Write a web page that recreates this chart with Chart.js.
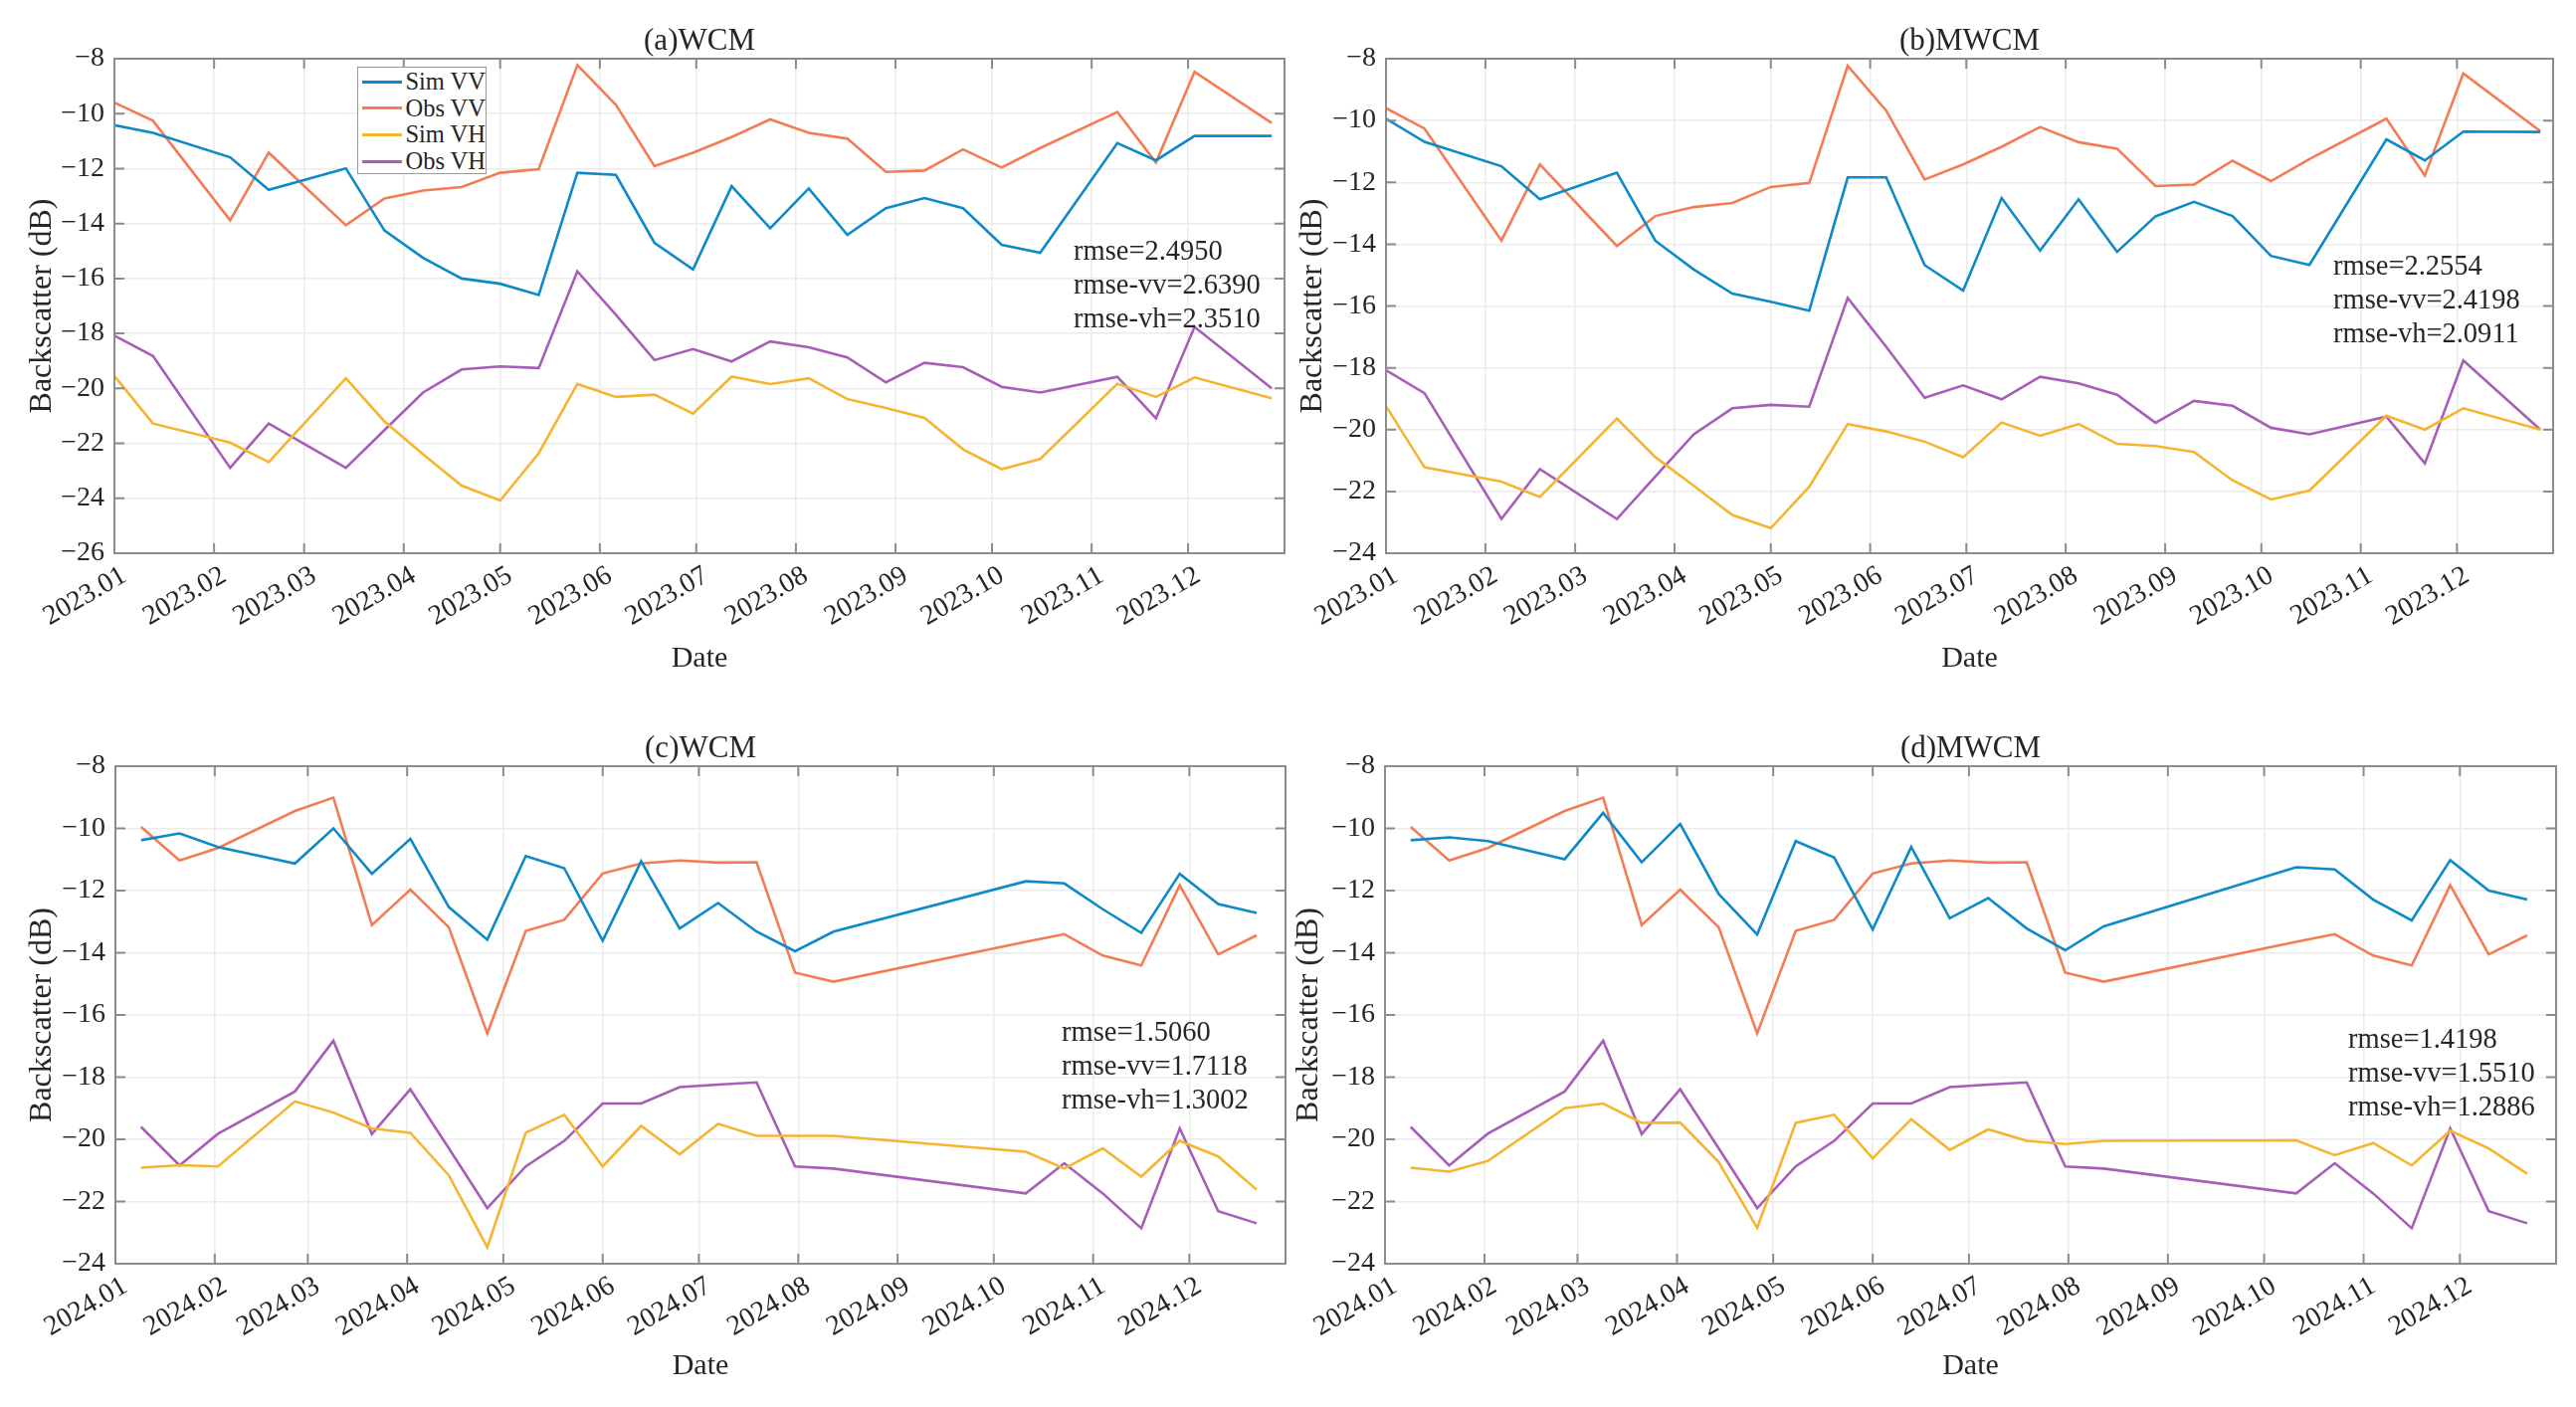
<!DOCTYPE html>
<html><head><meta charset="utf-8">
<script src="https://cdn.jsdelivr.net/npm/chart.js@4.4.1/dist/chart.umd.min.js"></script>
<style>
html,body{margin:0;padding:0;background:#fff;width:2589px;height:1414px;overflow:hidden}
.panel{position:absolute}
.note{position:absolute;font-family:"Liberation Serif",serif;font-size:28.5px;line-height:34px;color:#262626;white-space:nowrap}
.legend{position:absolute;left:359px;top:67px;width:130px;height:108px;border:1.5px solid #9a9a9a;background:#fff;font-family:"Liberation Serif",serif;font-size:24.5px;color:#262626;box-sizing:border-box;padding-top:1px}
.legend div{height:26.6px;line-height:26.6px;display:flex;align-items:center;white-space:nowrap}
.legend span.l{display:inline-block;width:42px;height:3px;margin:0 3px 0 4px}
</style></head>
<body>
<script>
// ---- data ----
const days2023 = [0,12,36,48,72,84,96,108,120,132,144,156,168,180,192,204,216,228,240,252,264,276,288,312,324,336,360];
const days2024 = [8,20,32,56,68,80,92,104,116,128,140,152,164,176,188,200,212,224,284,296,308,320,332,344,356];
const monthStarts2023 = [0,31,59,90,120,151,181,212,243,273,304,334];
const monthStarts2024 = [0,31,60,91,121,152,182,213,244,274,305,335];
const monthLabels2023 = ['2023.01','2023.02','2023.03','2023.04','2023.05','2023.06','2023.07','2023.08','2023.09','2023.10','2023.11','2023.12'];
const monthLabels2024 = ['2024.01','2024.02','2024.03','2024.04','2024.05','2024.06','2024.07','2024.08','2024.09','2024.10','2024.11','2024.12'];
const seriesNames = ['Sim VV','Obs VV','Sim VH','Obs VH'];

const obsVV2023 = [-9.6,-10.26,-13.88,-11.42,-14.06,-13.09,-12.8,-12.67,-12.15,-12.02,-8.23,-9.68,-11.91,-11.42,-10.85,-10.21,-10.7,-10.91,-12.12,-12.07,-11.3,-11.96,-11.25,-9.94,-11.78,-8.48,-10.34];
const obsVH2023 = [-18.08,-18.82,-22.89,-21.28,-22.89,-21.52,-20.15,-19.31,-19.2,-19.26,-15.74,-17.32,-18.97,-18.57,-19.02,-18.29,-18.5,-18.87,-19.78,-19.07,-19.23,-19.94,-20.15,-19.58,-21.09,-17.76,-20.0];
const simVV_WCM2023 = [-10.42,-10.7,-11.59,-12.77,-11.99,-14.25,-15.25,-16.0,-16.19,-16.6,-12.15,-12.23,-14.7,-15.67,-12.64,-14.17,-12.72,-14.41,-13.44,-13.07,-13.44,-14.77,-15.06,-11.07,-11.7,-10.81,-10.81];
const simVH_WCM2023 = [-19.55,-21.28,-21.97,-22.68,-19.63,-21.2,-22.4,-23.54,-24.08,-22.36,-19.84,-20.31,-20.23,-20.92,-19.57,-19.84,-19.63,-20.39,-20.71,-21.07,-22.22,-22.94,-22.57,-19.83,-20.31,-19.6,-20.36];
const simVV_MWCM2023 = [-9.94,-10.69,-11.48,-12.55,-11.69,-13.89,-14.82,-15.6,-15.86,-16.15,-11.84,-11.84,-14.68,-15.5,-12.51,-14.21,-12.55,-14.25,-13.1,-12.63,-13.09,-14.38,-14.67,-10.61,-11.29,-10.36,-10.37];
const simVH_MWCM2023 = [-19.24,-21.22,-21.68,-22.18,-19.64,-20.89,-21.82,-22.76,-23.19,-21.85,-19.82,-20.06,-20.39,-20.89,-19.77,-20.2,-19.82,-20.46,-20.53,-20.72,-21.64,-22.26,-21.97,-19.55,-20.0,-19.31,-20.0];

const obsVV2024 = [-9.95,-11.03,-10.63,-9.44,-9.01,-13.11,-11.97,-13.18,-16.59,-13.3,-12.94,-11.45,-11.13,-11.03,-11.1,-11.09,-14.64,-14.93,-13.65,-13.4,-14.09,-14.41,-11.83,-14.05,-13.44];
const obsVH2024 = [-19.6,-20.84,-19.82,-18.46,-16.83,-19.83,-18.39,-20.29,-22.21,-20.87,-20.05,-18.85,-18.85,-18.32,-18.24,-18.17,-20.87,-20.94,-21.74,-20.77,-21.74,-22.86,-19.65,-22.31,-22.7];
const simVV_WCM2024 = [-10.38,-10.16,-10.6,-11.13,-10.0,-11.46,-10.34,-12.53,-13.58,-10.89,-11.28,-13.61,-11.06,-13.22,-12.4,-13.32,-13.95,-13.32,-11.7,-11.77,-12.6,-13.36,-11.46,-12.43,-12.72];
const simVH_WCM2024 = [-20.91,-20.83,-20.87,-18.78,-19.14,-19.65,-19.79,-21.16,-23.47,-19.79,-19.21,-20.87,-19.57,-20.48,-19.5,-19.89,-19.89,-19.89,-20.4,-20.94,-20.29,-21.2,-20.05,-20.55,-21.62];
const simVV_MWCM2024 = [-10.38,-10.29,-10.41,-10.99,-9.5,-11.09,-9.86,-12.11,-13.41,-10.41,-10.94,-13.25,-10.6,-12.89,-12.24,-13.22,-13.92,-13.15,-11.25,-11.32,-12.29,-12.96,-11.02,-12.0,-12.29];
const simVH_MWCM2024 = [-20.91,-21.04,-20.7,-19.0,-18.85,-19.47,-19.46,-20.73,-22.85,-19.47,-19.21,-20.61,-19.35,-20.34,-19.68,-20.05,-20.15,-20.05,-20.03,-20.51,-20.12,-20.84,-19.72,-20.29,-21.11];

const rmseA = ['rmse=2.4950','rmse-vv=2.6390','rmse-vh=2.3510'];
const rmseB = ['rmse=2.2554','rmse-vv=2.4198','rmse-vh=2.0911'];
const rmseC = ['rmse=1.5060','rmse-vv=1.7118','rmse-vh=1.3002'];
const rmseD = ['rmse=1.4198','rmse-vv=1.5510','rmse-vh=1.2886'];

// ---- style ----
const COLORS = ['#0E8AC9','#F47C55','#F5B530','#A85DB8'];
const FONT = '"Liberation Serif", "Times New Roman", serif';
const TC = '#262626';
const FRAME = '#8c8c8c';

function pts(days, vals){ return days.map((d,i)=>({x:d, y:vals[i]})); }
function fmt(v){ return v < 0 ? '\u2212' + Math.abs(v) : String(v); }

const framePlugin = {
  id:'frame',
  afterDraw(chart){
    const {ctx, chartArea:a, scales:{x,y}} = chart;
    ctx.save();
    ctx.strokeStyle = FRAME; ctx.lineWidth = 2;
    ctx.strokeRect(a.left, a.top, a.right-a.left, a.bottom-a.top);
    ctx.beginPath();
    x.ticks.forEach(t=>{const p=x.getPixelForValue(t.value); ctx.moveTo(p,a.bottom); ctx.lineTo(p,a.bottom-10); ctx.moveTo(p,a.top); ctx.lineTo(p,a.top+10);});
    y.ticks.forEach(t=>{const p=y.getPixelForValue(t.value); ctx.moveTo(a.left,p); ctx.lineTo(a.left+10,p); ctx.moveTo(a.right,p); ctx.lineTo(a.right-10,p);});
    ctx.stroke();
    ctx.restore();
  }
};

function makePanel(p){
  const div = document.createElement('div');
  div.className = 'panel';
  div.style.left = p.left+'px'; div.style.top = p.top+'px';
  div.style.width = p.w+'px'; div.style.height = p.h+'px';
  const cv = document.createElement('canvas');
  cv.width = p.w; cv.height = p.h;
  div.appendChild(cv);
  document.body.appendChild(div);
  const series = [p.simVV, p.obsVV, p.simVH, p.obsVH];
  new Chart(cv, {
    type:'line',
    data:{datasets: series.map((s,i)=>({
      label: seriesNames[i], data: pts(p.days, s), xAxisID:'x', yAxisID:'y',
      borderColor: COLORS[i], backgroundColor: COLORS[i],
      borderWidth: 2.6, pointRadius: 0, tension: 0, fill:false
    }))},
    options:{
      responsive:false, animation:false, devicePixelRatio:1,
      layout:{padding:{left:0, right:p.pr, top:0, bottom:0}},
      plugins:{ legend:{display:false}, tooltip:{enabled:false}, title:{display:false} },
      scales:{
        x:{type:'linear', position:'bottom', min:0, max:p.xmax,
          afterBuildTicks:s=>{ s.ticks = p.starts.map(v=>({value:v})); },
          afterFit:s=>{ s.height = p.xh; },
          ticks:{autoSkip:false, minRotation:30, maxRotation:30, padding:6, labelOffset:10, color:TC,
            font:{family:FONT, size:28}, callback:(v,i)=>p.labels[i]},
          grid:{color:'#ebebeb', lineWidth:1.5, drawTicks:false},
          border:{display:false},
          title:{display:true, text:'Date', color:TC, font:{family:FONT, size:30}, padding:{top:0, bottom:p.pbDate}}
        },
        top:{type:'linear', position:'top', min:0, max:p.xmax,
          afterFit:s=>{ s.height = p.th; },
          ticks:{display:false},
          grid:{display:false, drawTicks:false},
          border:{display:false},
          title:{display:true, text:p.title, color:TC, font:{family:FONT, size:31}, padding:{top:p.pt, bottom:0}}
        },
        y:{min:p.ymin, max:-8,
          afterFit:s=>{ s.width = p.yw; },
          ticks:{stepSize:2, padding:10, color:TC, font:{family:FONT, size:28}, callback:v=>fmt(v)},
          grid:{color:'#ebebeb', lineWidth:1.5, drawTicks:false},
          border:{display:false},
          title:{display:true, text:'Backscatter (dB)', color:TC, font:{family:FONT, size:32}, padding:{top:p.ptY, bottom:0}}
        }
      }
    },
    plugins:[framePlugin]
  });
  const note = document.createElement('div');
  note.className = 'note';
  note.style.left = p.noteX+'px'; note.style.top = p.noteY+'px';
  note.innerHTML = p.rmse.join('<br>');
  document.body.appendChild(note);
}

makePanel({left:0, top:0, w:1300, h:700, yw:115, pr:9, th:59, pt:23, xh:144, pbDate:20, ptY:23,
  title:'(a)WCM', days:days2023, xmax:364, starts:monthStarts2023, labels:monthLabels2023, ymin:-26,
  simVV:simVV_WCM2023, obsVV:obsVV2023, simVH:simVH_WCM2023, obsVH:obsVH2023,
  rmse:rmseA, noteX:1079, noteY:235});
makePanel({left:1290, top:0, w:1299, h:700, yw:103, pr:23, th:59, pt:23, xh:144, pbDate:20, ptY:10,
  title:'(b)MWCM', days:days2023, xmax:364, starts:monthStarts2023, labels:monthLabels2023, ymin:-24,
  simVV:simVV_MWCM2023, obsVV:obsVV2023, simVH:simVH_MWCM2023, obsVH:obsVH2023,
  rmse:rmseB, noteX:2345, noteY:250});
makePanel({left:0, top:710, w:1300, h:704, yw:116, pr:8, th:60, pt:24, xh:144, pbDate:23, ptY:23,
  title:'(c)WCM', days:days2024, xmax:365, starts:monthStarts2024, labels:monthLabels2024, ymin:-24,
  simVV:simVV_WCM2024, obsVV:obsVV2024, simVH:simVH_WCM2024, obsVH:obsVH2024,
  rmse:rmseC, noteX:1067, noteY:1020});
makePanel({left:1290, top:710, w:1299, h:704, yw:102, pr:20, th:60, pt:24, xh:144, pbDate:23, ptY:6,
  title:'(d)MWCM', days:days2024, xmax:365, starts:monthStarts2024, labels:monthLabels2024, ymin:-24,
  simVV:simVV_MWCM2024, obsVV:obsVV2024, simVH:simVH_MWCM2024, obsVH:obsVH2024,
  rmse:rmseD, noteX:2360, noteY:1027});

// legend (panel a)
const lg = document.createElement('div');
lg.className = 'legend';
lg.innerHTML = seriesNames.map((n,i)=>'<div><span class="l" style="background:'+COLORS[i]+'"></span>'+n+'</div>').join('');
document.body.appendChild(lg);
</script>
</body></html>
